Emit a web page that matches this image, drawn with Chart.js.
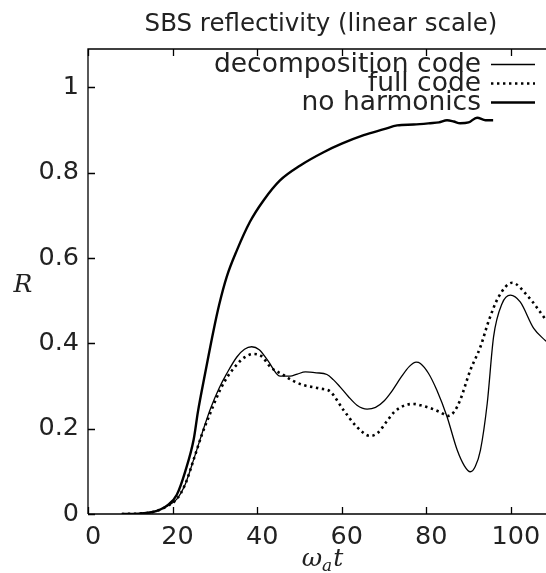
<!DOCTYPE html>
<html>
<head>
<meta charset="utf-8">
<script src="https://cdn.jsdelivr.net/npm/chart.js@4"></script>
<style>
  html, body { margin: 0; padding: 0; background: #fff; }
  #wrap { width: 546px; height: 573px; }
</style>
</head>
<body>
<div id="wrap"><canvas id="sbs-chart" width="546" height="573"></canvas></div>
<script>
// values (time in omega_a t, R linear)
const noHarmT = [8, 12, 15, 17, 19, 21, 23, 25, 26, 27.7, 29.7, 31, 32.8, 35.2, 38.3, 41.5, 45.4, 50.2, 55.7, 60, 65.2, 70, 73.1, 77, 80.9, 83, 84.9, 86.5, 88, 90, 92, 94, 95.8];
const noHarmR = [0, 0.001, 0.004, 0.01, 0.022, 0.045, 0.1, 0.175, 0.24, 0.33, 0.431, 0.49, 0.556, 0.618, 0.685, 0.735, 0.782, 0.817, 0.848, 0.868, 0.888, 0.902, 0.911, 0.913, 0.916, 0.918, 0.923, 0.92, 0.916, 0.918, 0.929, 0.923, 0.923];

const decompT = [8, 12, 15, 17, 19, 21, 23, 25, 27, 29, 31, 32.8, 35.2, 37, 38.7, 40.5, 42.5, 45.4, 47.8, 49.5, 51.4, 54, 56.5, 58, 59.6, 61.5, 63.6, 66, 68, 70, 72, 74, 76, 77.6, 78.6, 80.5, 82.5, 84.9, 87.3, 89, 90.4, 91.6, 92.8, 94.4, 95.9, 97.9, 99.9, 102.2, 105.4, 108.3];
const decompR = [0, 0.001, 0.004, 0.01, 0.02, 0.035, 0.07, 0.128, 0.19, 0.248, 0.295, 0.329, 0.368, 0.386, 0.392, 0.385, 0.36, 0.323, 0.323, 0.328, 0.333, 0.331, 0.327, 0.315, 0.298, 0.276, 0.255, 0.246, 0.25, 0.265, 0.29, 0.32, 0.346, 0.356, 0.353, 0.33, 0.29, 0.228, 0.15, 0.113, 0.099, 0.112, 0.15, 0.259, 0.415, 0.493, 0.513, 0.497, 0.435, 0.405];

const fullT = [8, 12, 15, 17, 19, 21, 23, 25, 27, 28.9, 31.2, 33, 35, 37, 39.1, 41, 43.1, 46.2, 48.5, 51, 54.9, 57.3, 60.4, 63.6, 66.7, 68.5, 70.5, 72.5, 75, 77, 78.6, 81, 83, 85.3, 86.6, 88, 90.4, 92.8, 94.8, 97.1, 100.3, 103.8, 108.3];
const fullR = [0, 0.001, 0.004, 0.01, 0.02, 0.035, 0.07, 0.128, 0.188, 0.236, 0.29, 0.322, 0.348, 0.367, 0.375, 0.37, 0.345, 0.326, 0.312, 0.302, 0.294, 0.287, 0.244, 0.204, 0.183, 0.19, 0.215, 0.24, 0.255, 0.258, 0.255, 0.248, 0.24, 0.23, 0.24, 0.267, 0.337, 0.392, 0.454, 0.509, 0.542, 0.513, 0.455];

const seriesNames = ["decomposition code", "full code", "no harmonics"];
const xTicks = [0, 20, 40, 60, 80, 100];
const yTicks = [0, 0.2, 0.4, 0.6, 0.8, 1];

const pts = (xs, ys) => xs.map((x, i) => ({ x: x, y: ys[i] }));

const TXT = "#222";
const sans = "'DejaVu Sans', sans-serif";
const serif = "'DejaVu Serif', serif";

// title, axis names, legend and inward ticks in gnuplot style
const gnuplotBits = {
    id: "gnuplotBits",
    afterDraw(chart) {
        const c = chart.ctx;
        const a = chart.chartArea;
        const xs = chart.scales.x, ys = chart.scales.y;
        c.save();
        c.strokeStyle = "#000";
        c.lineWidth = 1.3;
        // frame top + left + bottom
        c.beginPath();
        c.moveTo(a.left, a.bottom); c.lineTo(a.left, a.top); c.lineTo(a.right, a.top);
        c.moveTo(a.left, a.bottom); c.lineTo(a.right, a.bottom);
        c.stroke();
        // inward ticks
        c.beginPath();
        xTicks.forEach(v => {
            const px = Math.round(xs.getPixelForValue(v)) + 0.5;
            c.moveTo(px, a.bottom); c.lineTo(px, a.bottom - 7);
            c.moveTo(px, a.top); c.lineTo(px, a.top + 7);
        });
        yTicks.forEach(v => {
            const py = Math.round(ys.getPixelForValue(v)) + 0.5;
            c.moveTo(a.left, py); c.lineTo(a.left + 7, py);
        });
        c.stroke();

        c.fillStyle = TXT;
        // title
        c.font = "24.5px " + sans;
        c.textAlign = "center";
        c.textBaseline = "alphabetic";
        c.fillText("SBS reflectivity (linear scale)", 321, 31);

        // y name
        c.font = "italic 25px " + serif;
        c.fillText("R", 23, 292);

        // x name: omega_a t
        c.textAlign = "left";
        const big = "italic 25px " + serif, small = "italic 17px " + serif;
        c.font = big; const w1 = c.measureText("ω").width;
        c.font = small; const w2 = c.measureText("a").width;
        c.font = big; const w3 = c.measureText("t").width;
        let x0 = 322 - (w1 + w2 + w3) / 2;
        c.font = big; c.fillText("ω", x0, 566);
        c.font = small; c.fillText("a", x0 + w1, 571);
        c.font = big; c.fillText("t", x0 + w1 + w2 + 1, 566);

        // legend
        const rows = [64, 83, 102];
        c.font = "26.5px " + sans;
        c.textAlign = "right";
        c.textBaseline = "middle";
        chart.data.datasets.forEach((ds, i) => {
            c.fillStyle = TXT;
            c.fillText(seriesNames[i], 481, rows[i] + 1);
            c.strokeStyle = "#000";
            c.lineWidth = ds.borderWidth;
            c.setLineDash(ds.borderDash || []);
            c.beginPath();
            c.moveTo(491, rows[i] + 0.5); c.lineTo(535, rows[i] + 0.5);
            c.stroke();
        });
        c.restore();
    }
};

new Chart(document.getElementById("sbs-chart"), {
    type: "line",
    data: {
        datasets: [{
            label: seriesNames[0],
            data: pts(decompT, decompR),
            borderColor: "#000",
            borderWidth: 1.3,
            cubicInterpolationMode: "monotone"
        }, {
            label: seriesNames[1],
            data: pts(fullT, fullR),
            borderColor: "#000",
            borderWidth: 2.6,
            borderDash: [2.4, 3.6],
            borderCapStyle: "butt",
            cubicInterpolationMode: "monotone"
        }, {
            label: seriesNames[2],
            data: pts(noHarmT, noHarmR),
            borderColor: "#000",
            borderWidth: 2.4,
            cubicInterpolationMode: "monotone"
        }]
    },
    options: {
        responsive: false,
        animation: false,
        devicePixelRatio: 1,
        elements: { point: { radius: 0 } },
        layout: { padding: { top: 49, right: 0, left: 0, bottom: 0 } },
        plugins: { legend: { display: false }, title: { display: false }, tooltip: { enabled: false } },
        scales: {
            x: {
                type: "linear",
                min: 0,
                max: 108.3,
                afterBuildTicks: s => { s.ticks = xTicks.map(v => ({ value: v })); },
                afterFit: s => { s.height = 59; },
                grid: { display: false, drawTicks: false },
                border: { display: false },
                ticks: { color: TXT, font: { family: sans, size: 25.5 }, padding: 8, labelOffset: 5, maxRotation: 0 }
            },
            y: {
                min: 0,
                max: 1.09,
                afterBuildTicks: s => { s.ticks = yTicks.map(v => ({ value: v })); },
                afterFit: s => { s.width = 88; },
                grid: { display: false, drawTicks: false },
                border: { display: false },
                ticks: { color: TXT, font: { family: sans, size: 25.5 }, padding: 9, callback: v => String(v) }
            }
        }
    },
    plugins: [gnuplotBits]
});
</script>
</body>
</html>
